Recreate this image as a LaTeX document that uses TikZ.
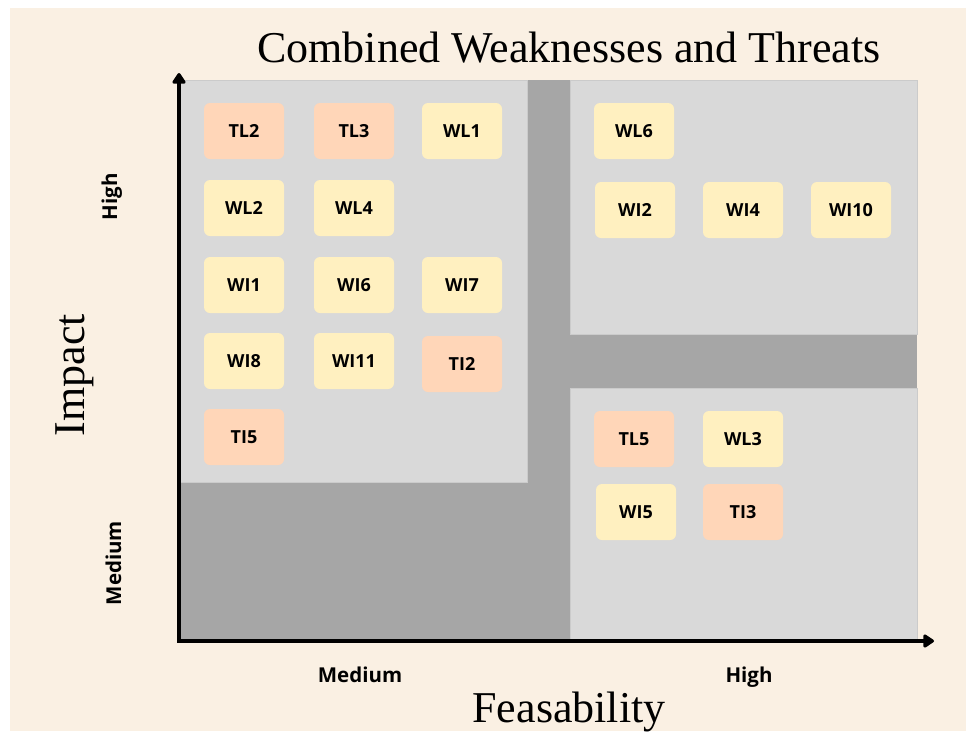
\documentclass[tikz,border=0pt]{standalone}
\usepackage{fontspec}
\setmainfont{Liberation Serif}
\newfontfamily\notefont{Open Sans}
\usetikzlibrary{arrows.meta}

\definecolor{paper}{HTML}{FAF0E3}
\definecolor{zonelight}{HTML}{D9D9D9}
\definecolor{zonedark}{HTML}{A6A6A6}
\definecolor{zoneedge}{HTML}{CBCBCB}
\definecolor{peach}{HTML}{FFD6B8}
\definecolor{butter}{HTML}{FFF0C0}

\tikzset{
  zone/.style={fill=zonelight, draw=zoneedge, line width=0.6pt},
  note/.style={rounded corners=6pt, minimum width=80pt, minimum height=56pt,
    inner sep=0pt, font=\notefont\bfseries\fontsize{18}{21}\selectfont, text=black},
  weak/.style={note, fill=butter},
  threat/.style={note, fill=peach},
  bigtext/.style={font=\fontsize{44}{50}\selectfont, inner sep=0pt},
  levellabel/.style={font=\notefont\bfseries\fontsize{20.5}{24}\selectfont, inner sep=0pt},
  axisline/.style={line width=4pt, line join=miter,
    {Triangle[length=12pt,width=15pt,round]}-{Triangle[length=12pt,width=15pt,round]}}
}

\begin{document}
\begin{tikzpicture}[x=1pt, y=-1pt]
  % page and backdrop
  \fill[white] (0,0) rectangle (966,731);
  \useasboundingbox (0,0) rectangle (966,731);
  \fill[paper] (10,8) rectangle (966,731);

  % quadrant fields
  \fill[zonedark] (180,80) rectangle (917,641);
  \path[zone] (180,80) rectangle (527,482);
  \path[zone] (570,80) rectangle (917,334);
  \path[zone] (570,388) rectangle (917,641);

  % axes
  \coordinate (ytip) at (179,73);
  \coordinate (origin) at (179,641);
  \coordinate (xtip) at (934,641);
  \draw[axisline] (ytip) -- (origin) -- (xtip);

  % title and axis names
  \node[bigtext, anchor=base] (title) at (569,62) {Combined Weaknesses and Threats};
  \node[bigtext, anchor=base] (xname) at (569,722) {Feasability};
  \node[bigtext, anchor=base, rotate=90] (yname) at (84,375) {Impact};

  % level labels
  \node[levellabel, anchor=base] (xmed) at (360,682) {Medium};
  \node[levellabel, anchor=base] (xhigh) at (749,682) {High};
  \node[levellabel, anchor=base, rotate=90] (ymed) at (121,563) {Medium};
  \node[levellabel, anchor=base, rotate=90] (yhigh) at (117,197) {High};

  % medium feasability, high impact
  \node[threat] (TL2) at (244,131) {TL2};
  \node[threat] (TL3) at (354,131) {TL3};
  \node[weak]   (WL1) at (462,131) {WL1};
  \node[weak]   (WL2) at (244,208) {WL2};
  \node[weak]   (WL4) at (354,208) {WL4};
  \node[weak]   (WI1) at (244,285) {WI1};
  \node[weak]   (WI6) at (354,285) {WI6};
  \node[weak]   (WI7) at (462,285) {WI7};
  \node[weak]   (WI8) at (244,361) {WI8};
  \node[weak]   (WI11) at (354,361) {WI11};
  \node[threat] (TI2) at (462,364) {TI2};
  \node[threat] (TI5) at (244,437) {TI5};

  % high feasability, high impact
  \node[weak] (WL6) at (634,131) {WL6};
  \node[weak] (WI2) at (635,210) {WI2};
  \node[weak] (WI4) at (743,210) {WI4};
  \node[weak] (WI10) at (851,210) {WI10};

  % high feasability, medium impact
  \node[threat] (TL5) at (634,439) {TL5};
  \node[weak]   (WL3) at (743,439) {WL3};
  \node[weak]   (WI5) at (636,512) {WI5};
  \node[threat] (TI3) at (743,512) {TI3};
\end{tikzpicture}
\end{document}
